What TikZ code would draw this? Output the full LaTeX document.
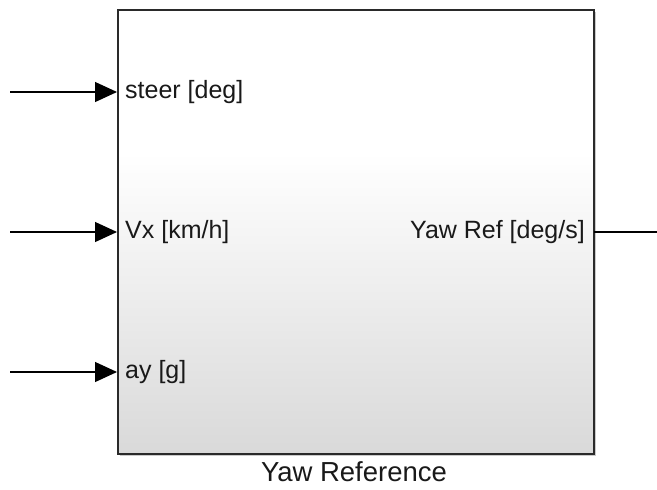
\documentclass[tikz,border=0pt]{standalone}
\usepackage{fontspec}
\setmainfont{Liberation Sans}
\usetikzlibrary{arrows.meta,shadows}
\definecolor{blockgray}{HTML}{D9D9D9}
\definecolor{blockedge}{HTML}{2A2A2A}
\pgfdeclareverticalshading{blockshade}{100bp}{color(0bp)=(blockgray); color(25bp)=(blockgray); color(59bp)=(white); color(100bp)=(white)}
\tikzset{
  blockbox/.style={draw=blockedge, line width=2.2pt, shading=blockshade,
    drop shadow={shadow xshift=2pt, shadow yshift=-2pt, opacity=0.35, fill=black!60}},
  portlabel/.style={font=\fontsize{25}{29}\selectfont, inner sep=0pt, text=black!90},
  captionlabel/.style={font=\fontsize{27.5}{31}\selectfont, inner sep=0pt, text=black!90},
  sig/.style={line width=1.2pt, -{Triangle[length=22pt,width=20pt]}},
  sigout/.style={line width=1.2pt}
}
\begin{document}
\begin{tikzpicture}[x=1pt,y=-1pt]
\useasboundingbox (0,0) rectangle (657,490);
\node[blockbox, minimum width=476pt, minimum height=444pt, anchor=north west, inner sep=0pt] (blk) at (117,9) {};
\coordinate (in1) at (10,92);
\coordinate (in2) at (10,232);
\coordinate (in3) at (10,372);
\coordinate (out1) at (657,232);
\coordinate (p1) at (117,92);
\coordinate (p2) at (117,232);
\coordinate (p3) at (117,372);
\coordinate (po) at (594,232);
\draw[sig] (in1) -- (p1);
\draw[sig] (in2) -- (p2);
\draw[sig] (in3) -- (p3);
\draw[sigout] (po) -- (out1);
\node[portlabel, anchor=west] (l1) at (125,92) {steer [deg]};
\node[portlabel, anchor=west] (l2) at (125,232) {Vx [km/h]};
\node[portlabel, anchor=west] (l3) at (125,372) {ay [g]};
\node[portlabel, anchor=east] (lo) at (585,232) {Yaw Ref [deg/s]};
\node[captionlabel] (cap) at (354,472) {Yaw Reference};
\end{tikzpicture}
\end{document}
